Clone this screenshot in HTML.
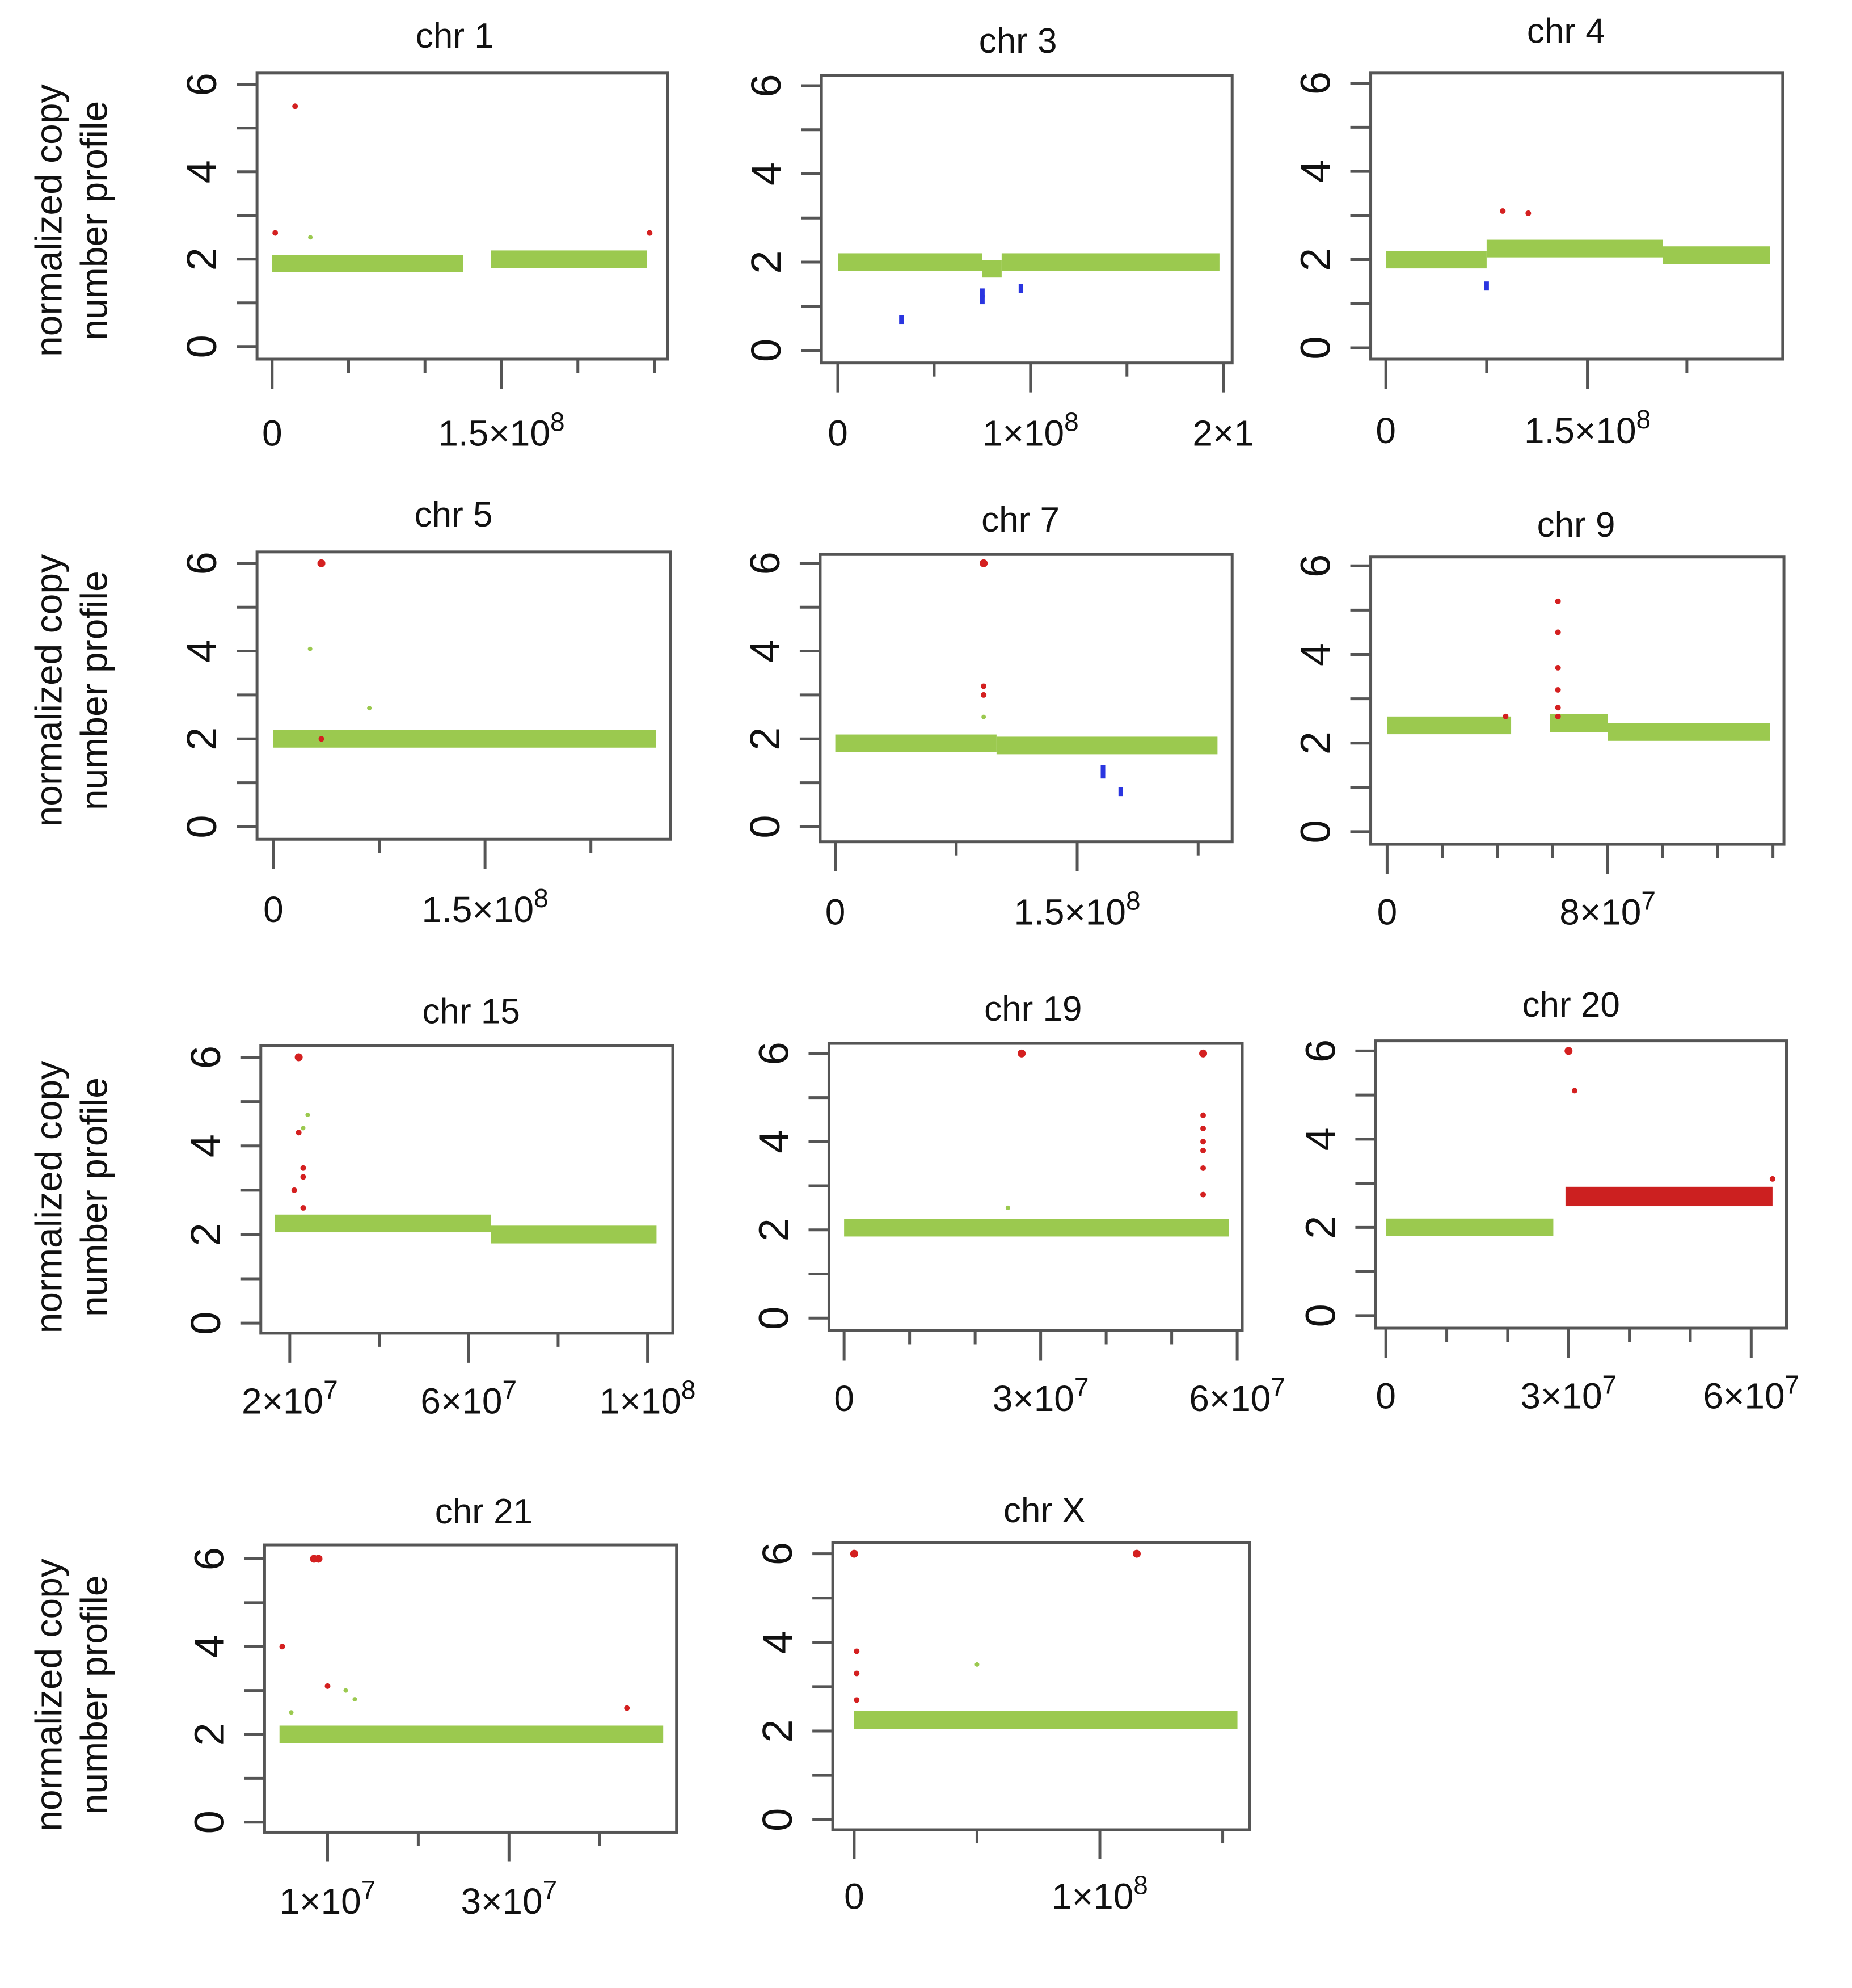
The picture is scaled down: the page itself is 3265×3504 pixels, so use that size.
<!DOCTYPE html>
<html><head><meta charset="utf-8"><style>
html,body{margin:0;padding:0;background:#fff}
svg{display:block}
text{font-family:"Liberation Sans",sans-serif;fill:#111}
</style></head><body>
<svg id="fig" width="3265" height="3504" viewBox="0 0 3265 3504" xmlns="http://www.w3.org/2000/svg"></svg>
<script>
// ---- data (x in bp, y = normalized copy number) ----
const chromNames = ["chr 1","chr 3","chr 4","chr 5","chr 7","chr 9","chr 15","chr 19","chr 20","chr 21","chr X"];
const greenSegments = [
  [[0,1.25e8,1.9],[1.43e8,2.45e8,2.0]],
  [[0,7.5e7,2.0],[7.5e7,8.5e7,1.85],[8.5e7,1.98e8,2.0]],
  [[0,7.5e7,2.0],[7.5e7,2.06e8,2.25],[2.06e8,2.86e8,2.1]],
  [[0,2.71e8,2.0]],
  [[0,1e8,1.9],[1e8,2.37e8,1.85]],
  [[0,4.5e7,2.4],[5.9e7,8e7,2.45],[8e7,1.39e8,2.25]],
  [[1.66e7,6.5e7,2.25],[6.5e7,1.02e8,2.0]],
  [[0,5.87e7,2.05]],
  [[0,2.75e7,2.0]],
  [[4.7e6,4.7e7,2.0]],
  [[0,1.56e8,2.25]]
];
const redSegments = [[],[],[],[],[],[],[],[],[[2.95e7,6.35e7,2.7]],[],[]];
const redPoints = [
  [[2e6,2.6],[1.5e7,5.5],[2.47e8,2.6]],
  [],
  [[8.7e7,3.1],[1.06e8,3.05]],
  [[3.4e7,6.0],[3.4e7,2.0]],
  [[9.2e7,6.0],[9.2e7,3.2],[9.2e7,3.0]],
  [[6.2e7,5.2],[6.2e7,4.5],[6.2e7,3.7],[6.2e7,3.2],[6.2e7,2.8],[6.2e7,2.6],[4.3e7,2.6]],
  [[2.2e7,6.0],[2.2e7,4.3],[2.3e7,3.5],[2.3e7,3.3],[2.1e7,3.0],[2.3e7,2.6]],
  [[2.71e7,6.0],[5.48e7,6.0],[5.48e7,4.6],[5.48e7,4.3],[5.48e7,4.0],[5.48e7,3.8],[5.48e7,3.4],[5.48e7,2.8]],
  [[3e7,6.0],[3.1e7,5.1],[6.35e7,3.1]],
  [[8.5e6,6.0],[9e6,6.0],[5e6,4.0],[1e7,3.1],[4.3e7,2.6]],
  [[0,6.0],[1.15e8,6.0],[1e6,3.8],[1e6,3.3],[1e6,2.7]]
];
const bluePoints = [
  [],
  [[3.3e7,0.7],[7.5e7,1.3],[7.5e7,1.15],[9.5e7,1.4]],
  [[7.5e7,1.4]],
  [],
  [[1.66e8,1.3],[1.66e8,1.2],[1.77e8,0.8]],
  [],[],[],[],[],[]
];
const greenPoints = [
  [[2.5e7,2.5]],[],[],[[2.6e7,4.05],[6.8e7,2.7]],[[9.2e7,2.5]],[],[[2.4e7,4.7],[2.3e7,4.4]],[[2.5e7,2.5]],[],[[6e6,2.5],[1.2e7,3.0],[1.3e7,2.8]],[[5e7,3.5]]
];
const xTicks = [
  [0,5e7,1e8,1.5e8,2e8,2.5e8],[0,5e7,1e8,1.5e8,2e8],[0,7.5e7,1.5e8,2.24e8],[0,7.5e7,1.5e8,2.25e8],[0,7.5e7,1.5e8,2.25e8],
  [0,2e7,4e7,6e7,8e7,1e8,1.2e8,1.4e8],[2e7,4e7,6e7,8e7,1e8],[0,1e7,2e7,3e7,4e7,5e7,6e7],[0,1e7,2e7,3e7,4e7,5e7,6e7],[1e7,2e7,3e7,4e7],[0,5e7,1e8,1.5e8]
];
const xLabels = [
  [[0,"0",""],[1.5e8,"1.5×10","8"]],[[0,"0",""],[1e8,"1×10","8"],[2e8,"2×1",""]],[[0,"0",""],[1.5e8,"1.5×10","8"]],
  [[0,"0",""],[1.5e8,"1.5×10","8"]],[[0,"0",""],[1.5e8,"1.5×10","8"]],[[0,"0",""],[8e7,"8×10","7"]],
  [[2e7,"2×10","7"],[6e7,"6×10","7"],[1e8,"1×10","8"]],[[0,"0",""],[3e7,"3×10","7"],[6e7,"6×10","7"]],
  [[0,"0",""],[3e7,"3×10","7"],[6e7,"6×10","7"]],[[1e7,"1×10","7"],[3e7,"3×10","7"]],[[0,"0",""],[1e8,"1×10","8"]]
];
const yTicks = [0,1,2,3,4,5,6];
const yLabels = [0,2,4,6];

// ---- layout (preview units, scaled by S) ----
const S = 3265/1470;
const layout = [
  {box:[204,58,530,285],y6:67,y0:275,xs:[216,0,398,1.5e8],title:[361,28],lab:342},
  {box:[652,60,978,288],y6:68,y0:278,xs:[665,0,818,1e8],title:[808,32],lab:342},
  {box:[1088,58,1415,285],y6:66,y0:276,xs:[1100,0,1260,1.5e8],title:[1243,24],lab:340},
  {box:[204,438,532,666],y6:447,y0:656,xs:[217,0,385,1.5e8],title:[360,408],lab:720},
  {box:[651,440,978,668],y6:447,y0:656,xs:[663,0,855,1.5e8],title:[810,412],lab:722},
  {box:[1088,442,1416,670],y6:449,y0:660,xs:[1101,0,1276,8e7],title:[1251,416],lab:722},
  {box:[207,830,534,1058],y6:839,y0:1050,xs:[230,2e7,372,6e7],title:[374,802],lab:1110},
  {box:[658,828,986,1056],y6:836,y0:1046,xs:[670,0,826,3e7],title:[820,800],lab:1108},
  {box:[1092,826,1418,1054],y6:834,y0:1044,xs:[1100,0,1245,3e7],title:[1247,797],lab:1106},
  {box:[210,1226,537,1454],y6:1237,y0:1446,xs:[260,1e7,404,3e7],title:[384,1199],lab:1507},
  {box:[661,1224,992,1452],y6:1233,y0:1444,xs:[678,0,873,1e8],title:[829,1198],lab:1503}
];
const rowCenters = [175,548,950,1345];

const NS="http://www.w3.org/2000/svg";
const svg=document.getElementById('fig');
function mk(tag,attrs,parent){const e=document.createElementNS(NS,tag);for(const k in attrs)e.setAttribute(k,attrs[k]);(parent||svg).appendChild(e);return e;}

// y-axis titles
rowCenters.forEach((cy,i)=>{
  const t=mk('text',{transform:`translate(${57*S},${cy*S}) rotate(-90)`,'text-anchor':'middle','font-size':66});
  
  
  const a=mk('tspan',{x:0,dy:-18},t);a.textContent='normalized copy';
  const b=mk('tspan',{x:0,dy:80},t);b.textContent='number profile';
});

layout.forEach((L,i)=>{
  const g=mk('g',{});
  
  
  const X=v=>S*(L.xs[0]+(v-L.xs[1])*(L.xs[2]-L.xs[0])/(L.xs[3]-L.xs[1]));
  const Y=v=>S*(L.y0+(L.y6-L.y0)*v/6);
  const [bl,bt,br,bb]=L.box.map(v=>v*S);
  // title
  const tt=mk('text',{x:L.title[0]*S,y:L.title[1]*S+22,'text-anchor':'middle','font-size':62},g);
  tt.textContent=chromNames[i];
  
  
  // green segments (band)
  greenSegments[i].forEach(s=>{
    const r=mk('rect',{x:X(s[0]),y:Y(s[2]+0.2),width:X(s[1])-X(s[0]),height:Y(s[2]-0.2)-Y(s[2]+0.2),fill:'#9bc94f'},g);
    
    
  });
  redSegments[i].forEach(s=>{
    const r=mk('rect',{x:X(s[0]),y:Y(s[2]+0.22),width:X(s[1])-X(s[0]),height:Y(s[2]-0.22)-Y(s[2]+0.22),fill:'#cc2020'},g);
    
    
  });
  greenPoints[i].forEach(p=>{
    const c=mk('circle',{cx:X(p[0]),cy:Y(p[1]),r:4,fill:'#9bc94f'},g);
    
    
  });
  redPoints[i].forEach(p=>{
    const c=mk('circle',{cx:X(p[0]),cy:Y(p[1]),r:p[1]>5.9?7:5,fill:'#d42020'},g);
    
    
  });
  bluePoints[i].forEach(p=>{
    const c=mk('rect',{x:X(p[0])-4,y:Y(p[1])-8,width:8,height:16,fill:'#2a35e0'},g);
    
    
  });
  // box
  const bx=mk('rect',{x:bl,y:bt,width:br-bl,height:bb-bt,fill:'none',stroke:'#555',"stroke-width":5},g);
  
  
  // y ticks
  yTicks.forEach(v=>{
    const l=mk('line',{x1:bl-36,x2:bl,y1:Y(v),y2:Y(v),stroke:'#555',"stroke-width":5},g);
    
    
  });
  yLabels.forEach(v=>{
    const t=mk('text',{transform:`translate(${bl-72},${Y(v)}) rotate(-90)`,'text-anchor':'middle','font-size':74},g);
    t.textContent=String(v);
    
    
  });
  // x ticks
  const labVals=xLabels[i].map(a=>a[0]);
  xTicks[i].forEach(v=>{
    const major=labVals.includes(v);
    const l=mk('line',{x1:X(v),x2:X(v),y1:bb,y2:bb+(major?52:24),stroke:'#555',"stroke-width":5},g);
    
    
  });
  xLabels[i].forEach(a=>{
    const t=mk('text',{x:X(a[0]),y:L.lab*S+26,'text-anchor':'middle','font-size':64},g);
    
    
    const m=mk('tspan',{},t);m.textContent=a[1];
    if(a[2]){const e=mk('tspan',{dy:-26,'font-size':46},t);e.textContent=a[2];}
  });
});
</script>
</body></html>
